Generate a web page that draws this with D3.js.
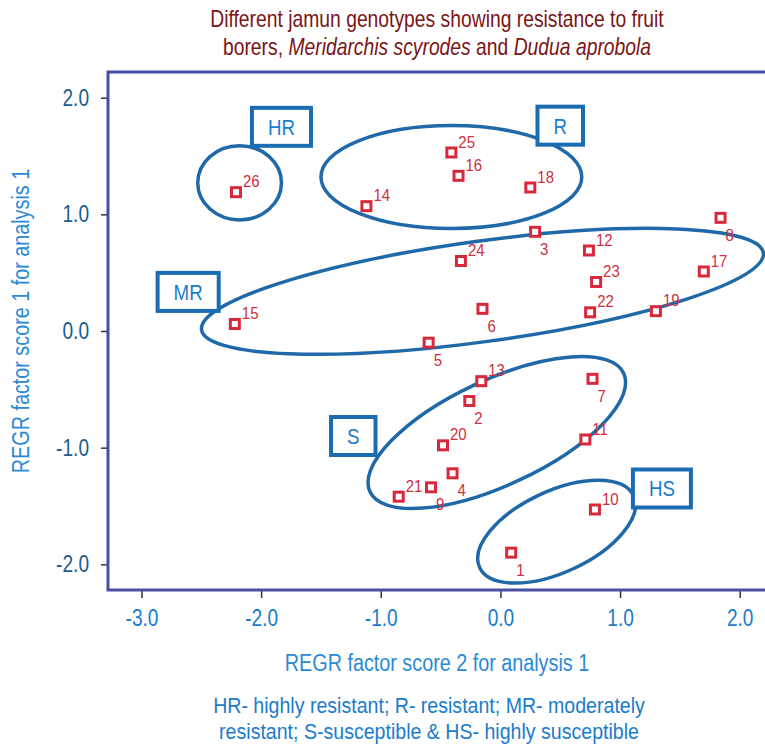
<!DOCTYPE html>
<html>
<head>
<meta charset="utf-8">
<script src="https://cdn.jsdelivr.net/npm/d3@7"></script>
<style>
  body { margin: 0; background: #fff; }
  svg text { font-family: "Liberation Sans Narrow", "Arial Narrow", "Liberation Sans", sans-serif; }
</style>
</head>
<body>
<div id="chart"></div>
<script>

// Genotype scores (REGR factor score 2 = x, factor score 1 = y)
const genotypes = [26, 14, 25, 16, 18, 3, 24, 12, 23, 22, 19, 17, 8, 15, 6, 5, 13, 2, 20, 4, 9, 21, 7, 11, 10, 1];
const score2 = [-2.21, -1.12, -0.41, -0.35, 0.25, 0.29, -0.33, 0.74, 0.80, 0.75, 1.30, 1.70, 1.84, -2.22, -0.15, -0.60, -0.16, -0.26, -0.48, -0.40, -0.58, -0.85, 0.77, 0.71, 0.79, 0.09];
const score1 = [1.19, 1.07, 1.53, 1.33, 1.23, 0.85, 0.60, 0.69, 0.42, 0.16, 0.17, 0.51, 0.97, 0.06, 0.19, -0.10, -0.43, -0.60, -0.98, -1.22, -1.34, -1.42, -0.41, -0.93, -1.53, -1.90];

// genotypes whose number is printed under the marker
const labelBelow = [3, 6, 5, 2, 7, 8, 9, 4, 1];

const xTicks = [-3, -2, -1, 0, 1, 2];
const yTicks = [-2, -1, 0, 1, 2];

// Resistance groups: ellipse (data units) and callout box
const groupNames = ["HR", "R", "MR", "S", "HS"];
const groupCx = [-2.18, -0.41, -0.15, -0.03, 0.47];
const groupCy = [1.27, 1.32, 0.34, -0.87, -1.72];
const groupRx = [0.35, 1.09, 2.37, 1.17, 0.71];
const groupRy = [0.31, 0.43, 0.42, 0.44, 0.34];
const groupAngle = [0, 0, -7.8, -25, -25];
const boxX = [-1.83, 0.50, -2.61, -1.23, 1.35];
const boxY = [1.75, 1.76, 0.335, -0.90, -1.35];

const points = genotypes.map((g, i) => ({ id: g, x: score2[i], y: score1[i] }));

const W = 765, H = 744;
const margin = { top: 72, left: 108 };
const width = 725, height = 518;

const svg = d3.select("#chart").append("svg")
  .attr("width", W)
  .attr("height", H);

const x = d3.scaleLinear().domain([-3.28, 2.78]).range([margin.left, margin.left + width]);
const y = d3.scaleLinear().domain([-2.22, 2.22]).range([margin.top + height, margin.top]);

// narrow type: squeeze text horizontally around its anchor
function narrowText(parent, px, py, sx) {
  return parent.append("g")
    .attr("transform", `translate(${px},${py}) scale(${sx},1)`)
    .append("text");
}

// title
const title = narrowText(svg, 437, 0, 0.84)
  .attr("text-anchor", "middle")
  .attr("fill", "#7b1416")
  .style("font-size", "23px");
title.append("tspan").attr("x", 0).attr("y", 27)
  .text("Different jamun genotypes showing resistance to fruit");
const t2 = title.append("tspan").attr("x", 0).attr("y", 55);
t2.append("tspan").text("borers, ");
t2.append("tspan").style("font-style", "italic").text("Meridarchis scyrodes");
t2.append("tspan").text(" and ");
t2.append("tspan").style("font-style", "italic").text("Dudua aprobola");

// axes
const tickScale = 0.83;
const xAxis = svg.append("g")
  .attr("transform", `translate(0,${margin.top + height})`)
  .call(d3.axisBottom(x).tickValues(xTicks).tickSize(8).tickPadding(12).tickFormat(d => d.toFixed(1)));
xAxis.select(".domain").remove();
xAxis.selectAll("line").attr("stroke", "#333").attr("stroke-width", 1.5);
xAxis.selectAll("text")
  .attr("fill", "#1a7ccc")
  .attr("transform", `scale(${tickScale},1)`)
  .style("font-size", "23px");

const yAxis = svg.append("g")
  .attr("transform", `translate(${margin.left},0)`)
  .call(d3.axisLeft(y).tickValues(yTicks).tickSize(7).tickPadding(12).tickFormat(d => d.toFixed(1)));
yAxis.select(".domain").remove();
yAxis.selectAll("line").attr("stroke", "#333").attr("stroke-width", 1.5);
yAxis.selectAll("text")
  .attr("fill", "#1b5d8f")
  .attr("x", -19 / tickScale)
  .attr("transform", `scale(${tickScale},1)`)
  .style("font-size", "23px");

// plot frame
svg.append("rect")
  .attr("x", x(-3.28))
  .attr("y", y(2.22))
  .attr("width", x(2.78) - x(-3.28))
  .attr("height", y(-2.22) - y(2.22))
  .attr("fill", "none")
  .attr("stroke", "#4a4ea3")
  .attr("stroke-width", 3);

// axis titles
narrowText(svg, 437, 671, 0.86)
  .attr("text-anchor", "middle")
  .attr("fill", "#2a8ad6")
  .style("font-size", "23px")
  .text("REGR factor score 2 for analysis 1");

svg.append("g")
  .attr("transform", "translate(29,321) rotate(-90) scale(0.86,1)")
  .append("text")
  .attr("text-anchor", "middle")
  .attr("fill", "#2a8ad6")
  .style("font-size", "23px")
  .text("REGR factor score 1 for analysis 1");

// footnote
const note = narrowText(svg, 429, 0, 0.89)
  .attr("text-anchor", "middle")
  .attr("fill", "#1a7ccc")
  .style("font-size", "22px");
note.append("tspan").attr("x", 0).attr("y", 713)
  .text("HR- highly resistant; R- resistant; MR- moderately");
note.append("tspan").attr("x", 0).attr("y", 739)
  .text("resistant; S-susceptible & HS- highly susceptible");

// group ellipses
const kx = x(1) - x(0);
const groups = groupNames.map((name, i) => ({
  name: name,
  cx: groupCx[i], cy: groupCy[i],
  rx: groupRx[i], ry: groupRy[i],
  angle: groupAngle[i],
  bx: boxX[i], by: boxY[i]
}));

svg.append("g")
  .selectAll("ellipse")
  .data(groups)
  .join("ellipse")
  .attr("transform", d => `translate(${x(d.cx)},${y(d.cy)}) rotate(${d.angle})`)
  .attr("rx", d => d.rx * kx)
  .attr("ry", d => d.ry * kx)
  .attr("fill", "none")
  .attr("stroke", "#1f69a8")
  .attr("stroke-width", 3.5);

// genotype markers
const pts = svg.append("g");
pts.selectAll("rect")
  .data(points)
  .join("rect")
  .attr("x", d => x(d.x) - 4.5)
  .attr("y", d => y(d.y) - 4.5)
  .attr("width", 9)
  .attr("height", 9)
  .attr("fill", "#fff")
  .attr("stroke", "#d8283c")
  .attr("stroke-width", 3);

pts.selectAll("g")
  .data(points)
  .join("g")
  .attr("transform", d => {
    const below = labelBelow.includes(d.id);
    return `translate(${x(d.x) + (below ? 5 : 7)},${y(d.y) + (below ? 23 : -5)}) scale(0.88,1)`;
  })
  .append("text")
  .attr("fill", "#cc3040")
  .style("font-size", "17px")
  .text(d => d.id);

// callout boxes
const boxes = svg.append("g")
  .selectAll("g")
  .data(groups)
  .join("g")
  .attr("transform", d => `translate(${x(d.bx)},${y(d.by)})`);

boxes.append("rect")
  .attr("fill", "#fff")
  .attr("stroke", "#1a6db3")
  .attr("stroke-width", 4);

boxes.append("text")
  .attr("text-anchor", "middle")
  .attr("dy", "0.36em")
  .attr("transform", "scale(0.85,1)")
  .attr("fill", "#1a7ccc")
  .style("font-size", "22px")
  .text(d => d.name);

boxes.each(function() {
  const g = d3.select(this);
  const tw = g.select("text").node().getComputedTextLength() * 0.85;
  const bw = Math.max(40, tw + 32);
  g.select("rect")
    .attr("x", -bw / 2)
    .attr("y", -19)
    .attr("width", bw)
    .attr("height", 38);
});

</script>
</body>
</html>
